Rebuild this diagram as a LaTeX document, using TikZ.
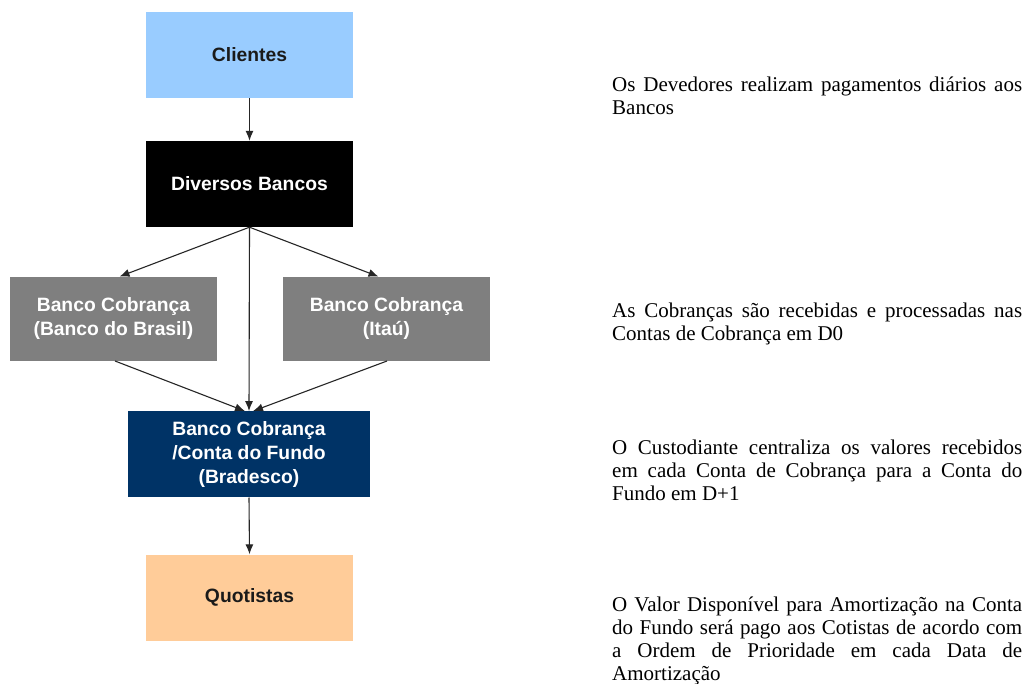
\documentclass[tikz,border=0pt]{standalone}
\usepackage{fontspec}
\setmainfont{Liberation Serif}
\newfontfamily\boxfont{Liberation Sans}
\usetikzlibrary{arrows.meta}
\definecolor{cliblue}{HTML}{99CCFF}
\definecolor{bankgray}{HTML}{7F7F7F}
\definecolor{navy}{HTML}{003366}
\definecolor{peach}{HTML}{FFCC99}
\definecolor{txtdark}{HTML}{1A1A1A}
\tikzset{
  box/.style={minimum width=207pt, minimum height=86pt, inner sep=0pt, align=center,
    font=\boxfont\bfseries\fontsize{19.3}{24}\selectfont},
  note/.style={anchor=north west, inner sep=0pt, text width=410pt, align=justify,
    font=\fontsize{21}{23}\selectfont},
  conn/.style={draw=black!85, line width=1.1pt, -{Latex[length=10pt,width=8pt]}}
}
\begin{document}
\begin{tikzpicture}[x=1pt,y=-1pt]
\useasboundingbox[fill=white] (0,0) rectangle (1027,684);
% boxes
\node[box, fill=cliblue, text=txtdark] (cli) at (249.5,55) {Clientes};
\node[box, fill=black, text=white] (div) at (249.5,184) {Diversos Bancos};
\node[box, fill=bankgray, text=white, minimum height=84pt] (bb) at (113.5,318.8) {Banco Cobrança\\(Banco do Brasil)};
\node[box, fill=bankgray, text=white, minimum height=84pt] (ita) at (386.5,318.8) {Banco Cobrança\\(Itaú)};
\node[box, fill=navy, text=white, minimum width=242pt] (bra) at (249,454.3) {Banco Cobrança\\/Conta do Fundo\\(Bradesco)};
\node[box, fill=peach, text=txtdark] (quo) at (249.5,597.5) {Quotistas};
% connectors
\draw[conn] (cli.south) -- (div.north);
\draw[conn] (div.south) -- ([xshift=6pt]bb.north);
\draw[conn] (div.south) -- ([xshift=-8pt]ita.north);
\draw[conn] (div.south) -- (bra.north);
\draw[conn] ([xshift=1.5pt]bb.south) -- ([xshift=-4pt]bra.north);
\draw[conn] ([xshift=0.5pt]ita.south) -- ([xshift=4pt]bra.north);
\draw[conn] (bra.south) -- (quo.north);
% notes
\node[note] (n1) at (612,75) {\hyphenpenalty=10000\tolerance=10000\strut Os Devedores realizam pagamentos diários aos\linebreak Bancos};
\node[note] (n2) at (612,301.5) {\hyphenpenalty=10000\tolerance=10000\strut As Cobranças são recebidas e processadas nas\linebreak Contas de Cobrança em D0};
\node[note] (n3) at (612,438.5) {\hyphenpenalty=10000\tolerance=10000\strut O Custodiante centraliza os valores recebidos\linebreak em cada Conta de Cobrança para a Conta do\linebreak Fundo em D+1};
\node[note] (n4) at (612,595.5) {\hyphenpenalty=10000\tolerance=10000\strut O Valor Disponível para Amortização na Conta\linebreak do Fundo será pago aos Cotistas de acordo com\linebreak a Ordem de Prioridade em cada Data de\linebreak Amortização};
\end{tikzpicture}
\end{document}
